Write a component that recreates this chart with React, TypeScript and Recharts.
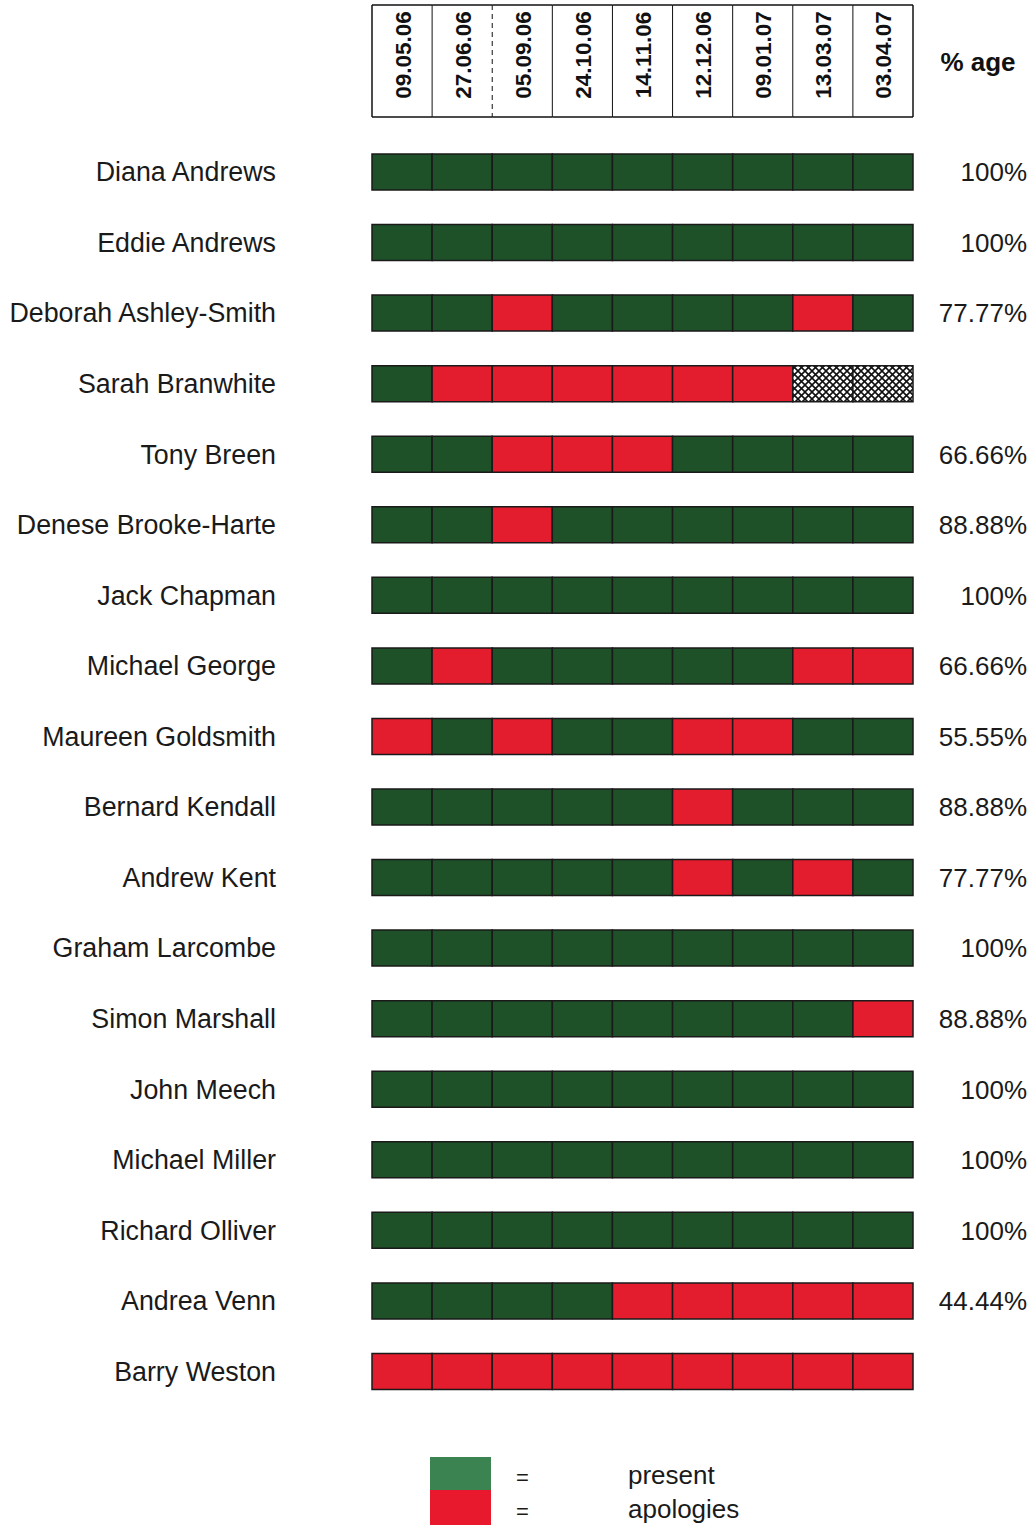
import React from 'react';
import { BarChart, Bar, XAxis, YAxis, Cell, Legend } from 'recharts';

// meeting dates (header columns)
const meetings = ['09.05.06', '27.06.06', '05.09.06', '24.10.06', '14.11.06', '12.12.06', '09.01.07', '13.03.07', '03.04.07'];

const members = [
    'Diana Andrews',
    'Eddie Andrews',
    'Deborah Ashley-Smith',
    'Sarah Branwhite',
    'Tony Breen',
    'Denese Brooke-Harte',
    'Jack Chapman',
    'Michael George',
    'Maureen Goldsmith',
    'Bernard Kendall',
    'Andrew Kent',
    'Graham Larcombe',
    'Simon Marshall',
    'John Meech',
    'Michael Miller',
    'Richard Olliver',
    'Andrea Venn',
    'Barry Weston',
];

// P = present, A = apologies, X = not a member at the time
const attendance = [
    'PPPPPPPPP',
    'PPPPPPPPP',
    'PPAPPPPAP',
    'PAAAAAAXX',
    'PPAAAPPPP',
    'PPAPPPPPP',
    'PPPPPPPPP',
    'PAPPPPPAA',
    'APAPPAAPP',
    'PPPPPAPPP',
    'PPPPPAPAP',
    'PPPPPPPPP',
    'PPPPPPPPA',
    'PPPPPPPPP',
    'PPPPPPPPP',
    'PPPPPPPPP',
    'PPPPAAAAA',
    'AAAAAAAAA',
];

const percentages = ['100%', '100%', '77.77%', '', '66.66%', '88.88%', '100%', '66.66%', '55.55%', '88.88%', '77.77%', '100%', '88.88%', '100%', '100%', '100%', '44.44%', ''];

const CHART_W = 1035;
const CHART_H = 1525;
const LEFT_W = 372;
const RIGHT_W = 122;
const HEADER_H = 137;
const COL_W = (CHART_W - LEFT_W - RIGHT_W) / meetings.length;

const GREEN = '#1e5128';
const RED = '#e31d2d';
const FONT = '"Liberation Sans", Arial, sans-serif';

const chartData = members.map((name, i) => {
    const row: Record<string, string | number> = { name, pct: percentages[i] };
    meetings.forEach((_, j) => {
        row[`m${j}`] = 1;
    });
    return row;
});

const fillFor = (code: string) => {
    if (code === 'P') return GREEN;
    if (code === 'A') return RED;
    return 'url(#hatch)';
};

// 日付ヘッダー（縦書きの日付と枠）
const HeaderTick = (props: any) => {
    const { x, index } = props;
    const left = x - COL_W / 2;
    const right = x + COL_W / 2;
    const top = 5;
    const bottom = 117;
    const mid = 55;
    return (
        <g>
            <line x1={left} y1={top} x2={right} y2={top} stroke="#111" strokeWidth={1.5} />
            <line x1={left} y1={bottom} x2={right} y2={bottom} stroke="#111" strokeWidth={1.5} />
            <line
                x1={left}
                y1={top}
                x2={left}
                y2={bottom}
                stroke="#111"
                strokeWidth={index === 0 ? 1.5 : 1}
                strokeDasharray={index === 2 ? '5 4' : undefined}
            />
            {index === meetings.length - 1 && (
                <>
                    <line x1={right} y1={top} x2={right} y2={bottom} stroke="#111" strokeWidth={1.5} />
                    <text x={right + 65} y={71} textAnchor="middle" fontFamily={FONT} fontWeight="bold" fontSize={26} fill="#111">
                        % age
                    </text>
                </>
            )}
            <text
                x={x + 1}
                y={mid}
                transform={`rotate(-90, ${x + 1}, ${mid})`}
                textAnchor="middle"
                dominantBaseline="central"
                fontFamily={FONT}
                fontWeight="bold"
                fontSize={22.5}
                fill="#111"
            >
                {meetings[index]}
            </text>
        </g>
    );
};

const NameTick = (props: any) => {
    const { x, y, payload } = props;
    return (
        <text x={x} y={y} textAnchor="end" dominantBaseline="central" fontFamily={FONT} fontSize={26.8} fill="#1a1a1a">
            {payload.value}
        </text>
    );
};

const PctTick = (props: any) => {
    const { x, y, index } = props;
    return (
        <text x={x} y={y} textAnchor="end" dominantBaseline="central" fontFamily={FONT} fontSize={26} fill="#1a1a1a">
            {percentages[index]}
        </text>
    );
};

const LegendBox = () => (
    <div style={{ fontFamily: FONT, color: '#1a1a1a', position: 'relative', width: 360, height: 68 }}>
        <div style={{ position: 'absolute', left: 0, top: 0, width: 61, height: 33, background: '#3b8451' }} />
        <div style={{ position: 'absolute', left: 0, top: 33, width: 61, height: 35, background: '#e8192c' }} />
        <div style={{ position: 'absolute', left: 86, top: 8, fontSize: 22 }}>=</div>
        <div style={{ position: 'absolute', left: 86, top: 42, fontSize: 22 }}>=</div>
        <div style={{ position: 'absolute', left: 198, top: 3, fontSize: 26 }}>present</div>
        <div style={{ position: 'absolute', left: 198, top: 37, fontSize: 26 }}>apologies</div>
    </div>
);

export default function App() {
    return (
        <div style={{ position: 'absolute', left: 0, top: 0, background: '#fff' }}>
            <BarChart
                width={CHART_W}
                height={CHART_H}
                data={chartData}
                layout="vertical"
                margin={{ top: 0, right: 0, bottom: 118, left: 0 }}
            >
                <defs>
                    <pattern id="hatch" patternUnits="userSpaceOnUse" width={7} height={7}>
                        <rect width={7} height={7} fill="#fff" />
                        <path d="M0,0 L7,7 M7,0 L0,7" stroke="#111" strokeWidth={1.6} />
                    </pattern>
                </defs>
                <XAxis
                    type="number"
                    orientation="top"
                    domain={[0, meetings.length]}
                    ticks={meetings.map((_, i) => i + 0.5)}
                    height={HEADER_H}
                    axisLine={false}
                    tickLine={false}
                    tick={<HeaderTick />}
                    interval={0}
                />
                <YAxis
                    type="category"
                    dataKey="name"
                    width={LEFT_W}
                    axisLine={false}
                    tickLine={false}
                    tickSize={0}
                    tickMargin={96}
                    tick={<NameTick />}
                    interval={0}
                />
                <YAxis
                    yAxisId="right"
                    orientation="right"
                    type="category"
                    dataKey="name"
                    width={RIGHT_W}
                    axisLine={false}
                    tickLine={false}
                    tickSize={0}
                    tickMargin={114}
                    tick={<PctTick />}
                    interval={0}
                />
                <Legend
                    layout="horizontal"
                    verticalAlign="middle"
                    content={<LegendBox />}
                    wrapperStyle={{ position: 'absolute', top: 1457, left: 430, width: 360 }}
                />
                {meetings.map((m, j) => (
                    <Bar
                        key={m}
                        dataKey={`m${j}`}
                        stackId="a"
                        barSize={36}
                        stroke="#1a1a1a"
                        strokeWidth={1.5}
                        isAnimationActive={false}
                    >
                        {members.map((name, i) => (
                            <Cell key={name} fill={fillFor(attendance[i][j])} />
                        ))}
                    </Bar>
                ))}
            </BarChart>
        </div>
    );
}
